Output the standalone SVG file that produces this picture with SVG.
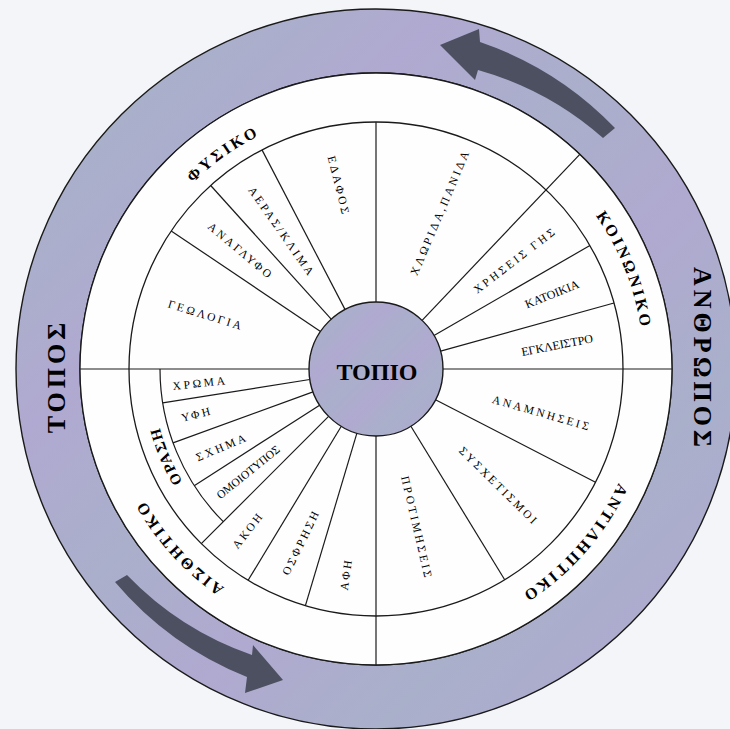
<svg xmlns="http://www.w3.org/2000/svg" width="730" height="729" viewBox="0 0 730 729">
<defs>
<linearGradient id="lilac" x1="0" y1="0" x2="1" y2="1">
<stop offset="0" stop-color="#aeaacf"/>
<stop offset="0.15" stop-color="#a9b0ca"/>
<stop offset="0.3" stop-color="#b0a9d1"/>
<stop offset="0.45" stop-color="#aaafcb"/>
<stop offset="0.6" stop-color="#b0a9d0"/>
<stop offset="0.75" stop-color="#a9b0ca"/>
<stop offset="0.9" stop-color="#afa9d0"/>
<stop offset="1" stop-color="#aaafcb"/>
</linearGradient>
<path id="pFys" d="M 123.4,303.2 A 261 261 0 0 1 396.9,108.8"/>
<path id="pKoin" d="M 503.1,133 A 268 268 0 0 1 630.4,453.2"/>
<path id="pAnt" d="M 643.9,374.6 A 268 268 0 0 1 417,633.8"/>
<path id="pAis" d="M 339.9,632.5 A 266 266 0 0 1 110.2,379.2"/>
<path id="pOr" d="M 239.6,546.7 A 224 224 0 0 1 153.9,339.8"/>
</defs>
<style>
.bg { fill: #f4f5f8; }
.ring { fill: url(#lilac); stroke: #1a1a1a; stroke-width: 1.4; fill-rule: evenodd; }
.white { fill: #fefefe; stroke: #1a1a1a; stroke-width: 1.3; }
.div { stroke: #1a1a1a; stroke-width: 1.2; fill: none; }
.arrow { fill: #4d5061; }
text { font-family: "Liberation Serif", "Times New Roman", serif; fill: #000; }
.lbl { font-size: 11.5px; letter-spacing: 2.7px; text-anchor: middle; }
.cond { font-size: 12px; letter-spacing: 0px; text-anchor: middle; }
.cat { font-size: 16px; font-weight: bold; letter-spacing: 3px; text-anchor: middle; }
.big { font-size: 26px; font-weight: bold; letter-spacing: 4px; text-anchor: middle; }
.title { font-size: 24px; font-weight: bold; text-anchor: middle; }
</style>
<rect class="bg" x="0" y="0" width="730" height="729"/>

<g id="outer-ring">
<path class="ring" d="M 16,369 A 360 360 0 1 0 736,369 A 360 360 0 1 0 16,369 Z M 80,369 A 296 296 0 1 0 672,369 A 296 296 0 1 0 80,369 Z"/>
</g>
<g id="middle-band">
<circle cx="376" cy="369" r="296" fill="#fefefe" stroke="#1a1a1a" stroke-width="1.3"/>
</g>
<g id="wheel">
<circle class="white" cx="376" cy="369" r="247"/>
</g>

<g id="connectors">
<line class="div" x1="443" y1="369" x2="672" y2="369"/>
<line class="div" x1="309" y1="369" x2="80" y2="369"/>
<line class="div" x1="376" y1="302" x2="376" y2="122"/>
<line class="div" x1="376" y1="436" x2="376" y2="665"/>
<line class="div" x1="422.1" y1="320.4" x2="579.8" y2="154.3"/>
<line class="div" x1="345.1" y1="309.6" x2="262" y2="149.9"/>
<line class="div" x1="331.2" y1="319.2" x2="210.7" y2="185.5"/>
<line class="div" x1="320.5" y1="331.5" x2="171.2" y2="230.9"/>
<line class="div" x1="434" y1="335.5" x2="589.9" y2="245.5"/>
<line class="div" x1="440.6" y1="351.1" x2="614" y2="303"/>
<line class="div" x1="435.5" y1="399.7" x2="595.5" y2="482.3"/>
<line class="div" x1="410.9" y1="426.2" x2="504.7" y2="579.8"/>
<line class="div" x1="356.9" y1="433.2" x2="305.4" y2="605.7"/>
<line class="div" x1="341.3" y1="426.3" x2="248.1" y2="580.3"/>
<line class="div" x1="328.6" y1="416.4" x2="201.3" y2="543.7"/>
<line class="div" x1="319.6" y1="405.2" x2="194.2" y2="485.7"/>
<line class="div" x1="313" y1="391.9" x2="173" y2="442.9"/>
<line class="div" x1="309.8" y1="379.5" x2="162.7" y2="402.8"/>
<path class="div" d="M 160,369 A 216 216 0 0 0 223.3,521.7"/>
</g>

<g id="arrows">
<path class="arrow" d="M 615,128 A 340 340 0 0 0 480,42 L 479,29 L 440,45 L 475,80 L 478,70 A 320 320 0 0 1 603,138 Z"/>
<path class="arrow" d="M 115,582 A 336 336 0 0 0 247,677 L 245,693 L 283,680 L 253,645 L 252,655 A 318 318 0 0 1 127,575 Z"/>
</g>

<g id="topio">
<circle class="ring" cx="376" cy="369" r="67"/>
<text class="title" x="377" y="380">ΤΟΠΙΟ</text>
</g>

<g id="topos">
<text class="big" transform="translate(56,376) rotate(-90)" dy="0.34em">ΤΟΠΟΣ</text>
</g>
<g id="anthropos">
<text class="big" transform="translate(703,359) rotate(90)" dy="0.34em">ΑΝΘΡΩΠΟΣ</text>
</g>

<g id="fysiko">
<text class="cat"><textPath href="#pFys" startOffset="50%">ΦΥΣΙΚΟ</textPath></text>
</g>
<g id="koinoniko">
<text class="cat"><textPath href="#pKoin" startOffset="50%">ΚΟΙΝΩΝΙΚΟ</textPath></text>
</g>
<g id="antiliptiko">
<text class="cat"><textPath href="#pAnt" startOffset="50%">ΑΝΤΙΛΗΠΤΙΚΟ</textPath></text>
</g>
<g id="aisthitiko">
<text class="cat"><textPath href="#pAis" startOffset="50%">ΑΙΣΘΗΤΙΚΟ</textPath></text>
</g>
<g id="orasi">
<text class="cat" style="font-size:15px;letter-spacing:2px"><textPath href="#pOr" startOffset="50%">ΟΡΑΣΗ</textPath></text>
</g>

<g id="chlorida"><text class="lbl" transform="translate(440,212) rotate(-67)" dy="0.35em">ΧΛΩΡΙΔΑ,ΠΑΝΙΔΑ</text></g>
<g id="edafos"><text class="lbl" transform="translate(339,186) rotate(76)" dy="0.35em">ΕΔΑΦΟΣ</text></g>
<g id="aeras"><text class="lbl" transform="translate(282,232) rotate(55)" dy="0.35em">ΑΕΡΑΣ/ΚΛΙΜΑ</text></g>
<g id="anaglyfo"><text class="lbl" transform="translate(241,251) rotate(40)" dy="0.35em">ΑΝΑΓΛΥΦΟ</text></g>
<g id="geologia"><text class="lbl" transform="translate(206,315) rotate(17)" dy="0.35em">ΓΕΩΛΟΓΙΑ</text></g>
<g id="xriseis"><text class="lbl" transform="translate(515,260) rotate(-37.5)" dy="0.35em">ΧΡΗΣΕΙΣ ΓΗΣ</text></g>
<g id="katoikia"><text class="cond" transform="translate(552,294) rotate(-22)" dy="0.35em">ΚΑΤΟΙΚΙΑ</text></g>
<g id="egkleistro"><text class="cond" transform="translate(557,345) rotate(-11)" dy="0.35em">ΕΓΚΛΕΙΣΤΡΟ</text></g>
<g id="anamniseis"><text class="lbl" transform="translate(542,413) rotate(16)" dy="0.35em">ΑΝΑΜΝΗΣΕΙΣ</text></g>
<g id="sysxetismoi"><text class="lbl" transform="translate(499,486) rotate(44.5)" dy="0.35em">ΣΥΣΧΕΤΙΣΜΟΙ</text></g>
<g id="protimiseis"><text class="lbl" transform="translate(417,528) rotate(77)" dy="0.35em">ΠΡΟΤΙΜΗΣΕΙΣ</text></g>
<g id="afi"><text class="lbl" transform="translate(346,574) rotate(-82)" dy="0.35em">ΑΦΗ</text></g>
<g id="osfrisi"><text class="lbl" transform="translate(301,542) rotate(-64)" dy="0.35em">ΟΣΦΡΗΣΗ</text></g>
<g id="akoi"><text class="lbl" transform="translate(248,530) rotate(-52)" dy="0.35em">ΑΚΟΗ</text></g>
<g id="omoiotypos"><text class="cond" style="font-size:11.5px" transform="translate(248,472) rotate(-39)" dy="0.35em">ΟΜΟΙΟΤΥΠΟΣ</text></g>
<g id="sxima"><text class="lbl" transform="translate(222,447) rotate(-23)" dy="0.35em">ΣΧΗΜΑ</text></g>
<g id="yfi"><text class="lbl" transform="translate(197,414) rotate(-14)" dy="0.35em">ΥΦΗ</text></g>
<g id="xroma"><text class="lbl" transform="translate(200,383) rotate(-6)" dy="0.35em">ΧΡΩΜΑ</text></g>
</svg>
